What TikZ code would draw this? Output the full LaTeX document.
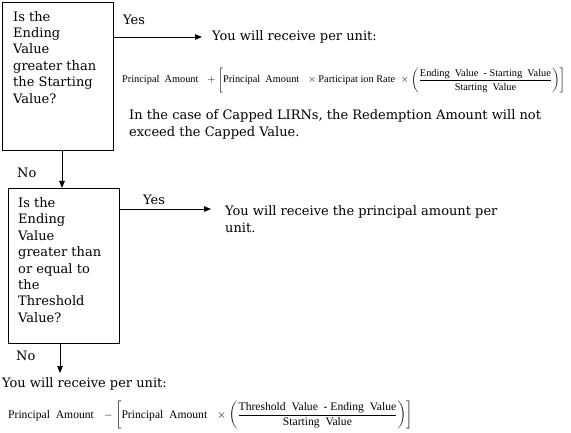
\documentclass[tikz,border=0pt]{standalone}
\usepackage{fontspec}
\setmainfont{DejaVu Serif}
\newfontfamily\fmla{Liberation Serif}
\usetikzlibrary{arrows.meta}
\newcommand{\ftext}[1]{\text{\fmla #1}}
\usepackage{amsmath}
\begin{document}
\begin{tikzpicture}[x=1pt,y=-1pt,
  box/.style={draw, line width=0.8pt, inner sep=0pt, anchor=north west},
  txt/.style={inner sep=0pt, anchor=north west, align=left, font=\fontsize{13}{16.4}\selectfont},
  lab/.style={inner sep=0pt, anchor=base west, font=\fontsize{13}{16}\selectfont},
  para/.style={inner sep=0pt, anchor=north west, align=left, font=\fontsize{13}{17}\selectfont},
  fml/.style={inner sep=0pt, anchor=base west},
  arr/.style={line width=0.8pt, -{Triangle[length=7pt,width=5.5pt]}}]
\useasboundingbox (0,0) rectangle (571,433);
% boxes
\node[box, minimum width=111pt, minimum height=148pt] (b1) at (2,2) {};
\node[box, minimum width=111pt, minimum height=155pt] (b2) at (8,188) {};
% box texts
\node[txt] (t1) at (13,11) {Is the\\Ending\\Value\\greater than\\the Starting\\Value?};
\node[txt] (t2) at (18,197.5) {Is the\\Ending\\Value\\greater than\\or equal to\\the\\Threshold\\Value?};
% labels
\node[lab] (y1) at (123,25) {Yes};
\node[lab] (y2) at (143,205) {Yes};
\node[lab] (n1) at (17,178) {No};
\node[lab] (n2) at (16,360) {No};
% results
\node[lab] (r1) at (212,41) {You will receive per unit:};
\node[fml] (f1) at (122,83) {\resizebox{443pt}{!}{$\ftext{Principal\ \ Amount}\ \ +\left[\ftext{Principal\ \ Amount}\ \ \times\ftext{Participat ion Rate}\ \times\left(\dfrac{\ftext{Ending\ \ Value\ \ - Starting\ \ Value}}{\ftext{Starting\ \ Value}}\right)\right]$}};
\node[para] (c1) at (129,109.5) {In the case of Capped LIRNs, the Redemption Amount will not\\exceed the Capped Value.};
\node[para] (r2) at (225,205.5) {You will receive the principal amount per\\unit.};
\node[lab] (r3) at (2,387) {You will receive per unit:};
\node[fml] (f2) at (8,418) {\resizebox{404pt}{!}{$\ftext{Principal\ \ Amount}\ \ -\left[\ftext{Principal\ \ Amount}\ \ \times\left(\dfrac{\ftext{Threshold\ \ Value\ \ - Ending\ \ Value}}{\ftext{Starting\ \ Value}}\right)\right]$}};
% connectors
\coordinate (e1) at (202,37);
\coordinate (e2) at (211,209);
\coordinate (e3) at (60,373);
\draw[arr] (b1.east |- e1) -- (e1);
\draw[arr] (b2.east |- e2) -- (e2);
\draw[arr] (b1.south -| 62,0) -- (b2.north -| 62,0);
\draw[arr] (b2.south -| e3) -- (e3);
\end{tikzpicture}
\end{document}
